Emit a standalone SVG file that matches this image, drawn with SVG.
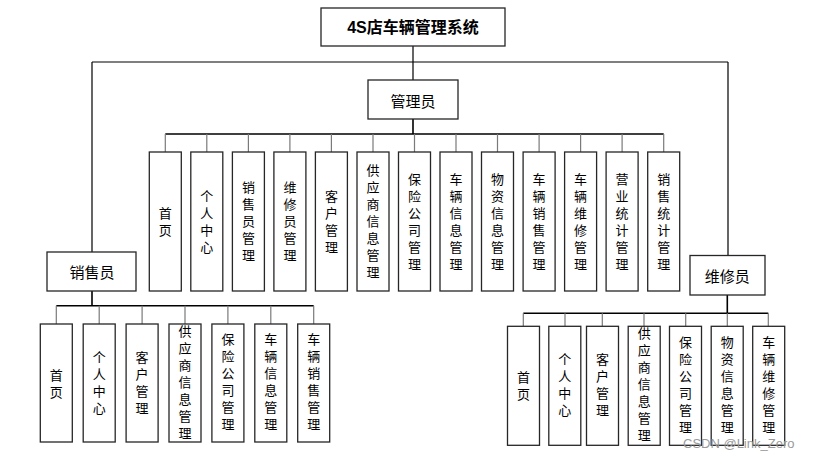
<svg xmlns="http://www.w3.org/2000/svg" width="818" height="460" viewBox="0 0 818 460">
<style>
.box{fill:#fff;stroke:#262626;stroke-width:1.3}
.lbl{font-family:"Noto Sans CJK SC","Liberation Sans",sans-serif;font-size:15px;fill:#000;text-anchor:middle;dominant-baseline:central}
.title{font-family:"Liberation Sans","Noto Sans CJK SC",sans-serif;font-size:16px;font-weight:bold;fill:#000;text-anchor:middle;dominant-baseline:central}
.col{font-family:"Noto Sans CJK SC","Liberation Sans",sans-serif;font-size:13px;fill:#000;text-anchor:middle;writing-mode:vertical-rl;letter-spacing:4px}
.main{stroke:#000;stroke-width:1.2;fill:none}
.bus{stroke:#000;stroke-width:1.6;fill:none}
.stub{stroke:#7a7a7a;stroke-width:1.2;fill:none}
.wm{font-family:"Liberation Sans","Noto Sans",sans-serif;font-size:13px;fill:#9a9a9a}
</style>
<g id="connectors">
<path class="main" d="M413 46V80M92 62H728M92 62V252M728 62V255"/>
<path class="bus" d="M413 119V134M165.3 134H663.7"/>
<path class="stub" d="M165.3 134V152M206.8 134V152M248.4 134V152M289.9 134V152M331.4 134V152M373 134V152M414.5 134V152M456 134V152M497.5 134V152M539.1 134V152M580.6 134V152M622.1 134V152M663.7 134V152"/>
<path class="bus" d="M92 291V305.7M56.3 305.7H313.7"/>
<path class="stub" d="M56.3 305.7V324M99.2 305.7V324M142.1 305.7V324M185 305.7V324M227.9 305.7V324M270.8 305.7V324M313.7 305.7V324"/>
<path class="bus" d="M727.3 295V313.3M523.3 313.3H768.3"/>
<path class="stub" d="M523.3 313.3V326.3M565 313.3V326.3M602.3 313.3V326.3M644 313.3V326.3M685.7 313.3V326.3M727.3 313.3V326.3M768.3 313.3V326.3"/>
</g>
<g id="root"><rect class="box" x="321" y="8" width="184" height="38"/><text class="title" x="413" y="27">4S店车辆管理系统</text></g>
<g id="admin"><rect class="box" x="368" y="80" width="90" height="39"/><text class="lbl" x="413" y="100">管理员</text></g>
<g id="sales"><rect class="box" x="47" y="252" width="89" height="39"/><text class="lbl" x="92" y="271.5">销售员</text></g>
<g id="repair"><rect class="box" x="690" y="255.5" width="75" height="39.5"/><text class="lbl" x="727.3" y="275.5">维修员</text></g>

<g id="a0"><rect class="box" x="149.3" y="152" width="32" height="139"/><text class="col" x="165.3" y="223.5">首页</text></g>
<g id="a1"><rect class="box" x="190.8" y="152" width="32" height="139"/><text class="col" x="206.8" y="223.5">个人中心</text></g>
<g id="a2"><rect class="box" x="232.4" y="152" width="32" height="139"/><text class="col" x="248.4" y="223.5">销售员管理</text></g>
<g id="a3"><rect class="box" x="273.9" y="152" width="32" height="139"/><text class="col" x="289.9" y="223.5">维修员管理</text></g>
<g id="a4"><rect class="box" x="315.4" y="152" width="32" height="139"/><text class="col" x="331.4" y="223.5">客户管理</text></g>
<g id="a5"><rect class="box" x="357" y="152" width="32" height="139"/><text class="col" x="373" y="223.5">供应商信息管理</text></g>
<g id="a6"><rect class="box" x="398.5" y="152" width="32" height="139"/><text class="col" x="414.5" y="223.5">保险公司管理</text></g>
<g id="a7"><rect class="box" x="440" y="152" width="32" height="139"/><text class="col" x="456" y="223.5">车辆信息管理</text></g>
<g id="a8"><rect class="box" x="481.5" y="152" width="32" height="139"/><text class="col" x="497.5" y="223.5">物资信息管理</text></g>
<g id="a9"><rect class="box" x="523.1" y="152" width="32" height="139"/><text class="col" x="539.1" y="223.5">车辆销售管理</text></g>
<g id="a10"><rect class="box" x="564.6" y="152" width="32" height="139"/><text class="col" x="580.6" y="223.5">车辆维修管理</text></g>
<g id="a11"><rect class="box" x="606.1" y="152" width="32" height="139"/><text class="col" x="622.1" y="223.5">营业统计管理</text></g>
<g id="a12"><rect class="box" x="647.7" y="152" width="32" height="139"/><text class="col" x="663.7" y="223.5">销售统计管理</text></g>

<g id="s0"><rect class="box" x="40.3" y="324" width="32" height="118"/><text class="col" x="56.3" y="386">首页</text></g>
<g id="s1"><rect class="box" x="83.2" y="324" width="32" height="118"/><text class="col" x="99.2" y="384.5">个人中心</text></g>
<g id="s2"><rect class="box" x="126.1" y="324" width="32" height="118"/><text class="col" x="142.1" y="384.5">客户管理</text></g>
<g id="s3"><rect class="box" x="169" y="324" width="32" height="118"/><text class="col" x="185" y="384">供应商信息管理</text></g>
<g id="s4"><rect class="box" x="211.9" y="324" width="32" height="118"/><text class="col" x="227.9" y="384">保险公司管理</text></g>
<g id="s5"><rect class="box" x="254.8" y="324" width="32" height="118"/><text class="col" x="270.8" y="384">车辆信息管理</text></g>
<g id="s6"><rect class="box" x="297.7" y="324" width="32" height="118"/><text class="col" x="313.7" y="384">车辆销售管理</text></g>

<g id="r0"><rect class="box" x="507.5" y="326.3" width="32" height="119"/><text class="col" x="523.5" y="388">首页</text></g>
<g id="r1"><rect class="box" x="548.8" y="326.3" width="32" height="119"/><text class="col" x="564.8" y="387">个人中心</text></g>
<g id="r2"><rect class="box" x="586.5" y="326.3" width="32" height="119"/><text class="col" x="602.5" y="387">客户管理</text></g>
<g id="r3"><rect class="box" x="628.2" y="326.3" width="32" height="119"/><text class="col" x="644.2" y="386">供应商信息管理</text></g>
<g id="r4"><rect class="box" x="669.5" y="326.3" width="32" height="119"/><text class="col" x="685.5" y="386.5">保险公司管理</text></g>
<g id="r5"><rect class="box" x="711.2" y="326.3" width="32" height="119"/><text class="col" x="727.2" y="386.5">物资信息管理</text></g>
<g id="r6"><rect class="box" x="752.7" y="326.3" width="32" height="119"/><text class="col" x="768.7" y="386.5">车辆维修管理</text></g>

<text class="wm" x="683" y="448">CSDN @Link_Zero</text>
</svg>
